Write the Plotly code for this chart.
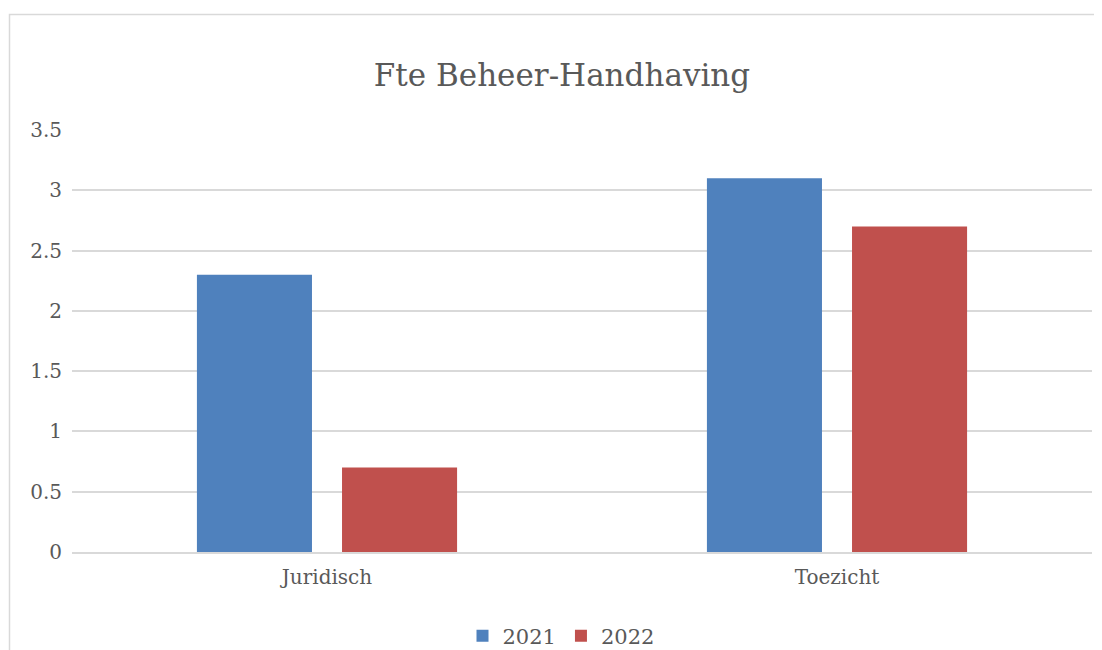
import plotly.graph_objects as go

categories = ["Juridisch", "Toezicht"]
series_names = ["2021", "2022"]
values_2021 = [2.3, 3.1]
values_2022 = [0.7, 2.7]
colors = ["#4F81BD", "#C0504D"]

FONT = "DejaVu Serif"
TXT = "#595959"

fig = go.Figure()
for name, vals, col in zip(series_names, [values_2021, values_2022], colors):
    fig.add_trace(go.Bar(x=categories, y=vals, name=name, marker=dict(color=col, line=dict(width=0))))

# page has an 8px body margin; work in page pixels and convert
OFF = 8
W, H = 1102 - OFF, 650 - OFF
L, R, T, B = 72 - OFF, 10, 130 - OFF, 650 - 552
pw, ph = W - L - R, H - T - B

def px_x(x):
    return (x - OFF - L) / pw

def px_y(y):
    return (H - B - (y - OFF)) / ph

fig.add_shape(type="rect", xref="paper", yref="paper",
              x0=px_x(9.5), x1=px_x(1120), y0=px_y(14.5), y1=px_y(700),
              line=dict(color="#d9d9d9", width=1.5), fillcolor="rgba(0,0,0,0)", layer="below")

fig.update_layout(
    width=W, height=H,
    margin=dict(l=L, r=R, t=T, b=B, autoexpand=False),
    paper_bgcolor="white", plot_bgcolor="white",
    barmode="group", bargap=0.431, bargroupgap=0.207,
    font=dict(family=FONT, color=TXT, size=20),
    title=dict(text="Fte Beheer-Handhaving", x=px_x(562), xref="paper", xanchor="center",
               y=1 - (75 - OFF) / H, yanchor="middle", font=dict(size=31, color=TXT, family=FONT)),
    xaxis=dict(showgrid=False, showline=True, linecolor="#d9d9d9", linewidth=1.8,
               ticks="", ticklabelstandoff=6, tickfont=dict(size=20, color=TXT)),
    yaxis=dict(range=[0, 3.5], dtick=0.5, showgrid=True, gridcolor="#d9d9d9", gridwidth=1.5,
               zeroline=False, showline=False, ticks="", ticklabelstandoff=9,
               tickformat="~g", tickfont=dict(size=20, color=TXT)),
    legend=dict(orientation="h", x=px_x(561), xanchor="center", y=px_y(636), yanchor="middle",
                font=dict(size=21, color=TXT), traceorder="normal"),
)

fig.write_html("out.html")
